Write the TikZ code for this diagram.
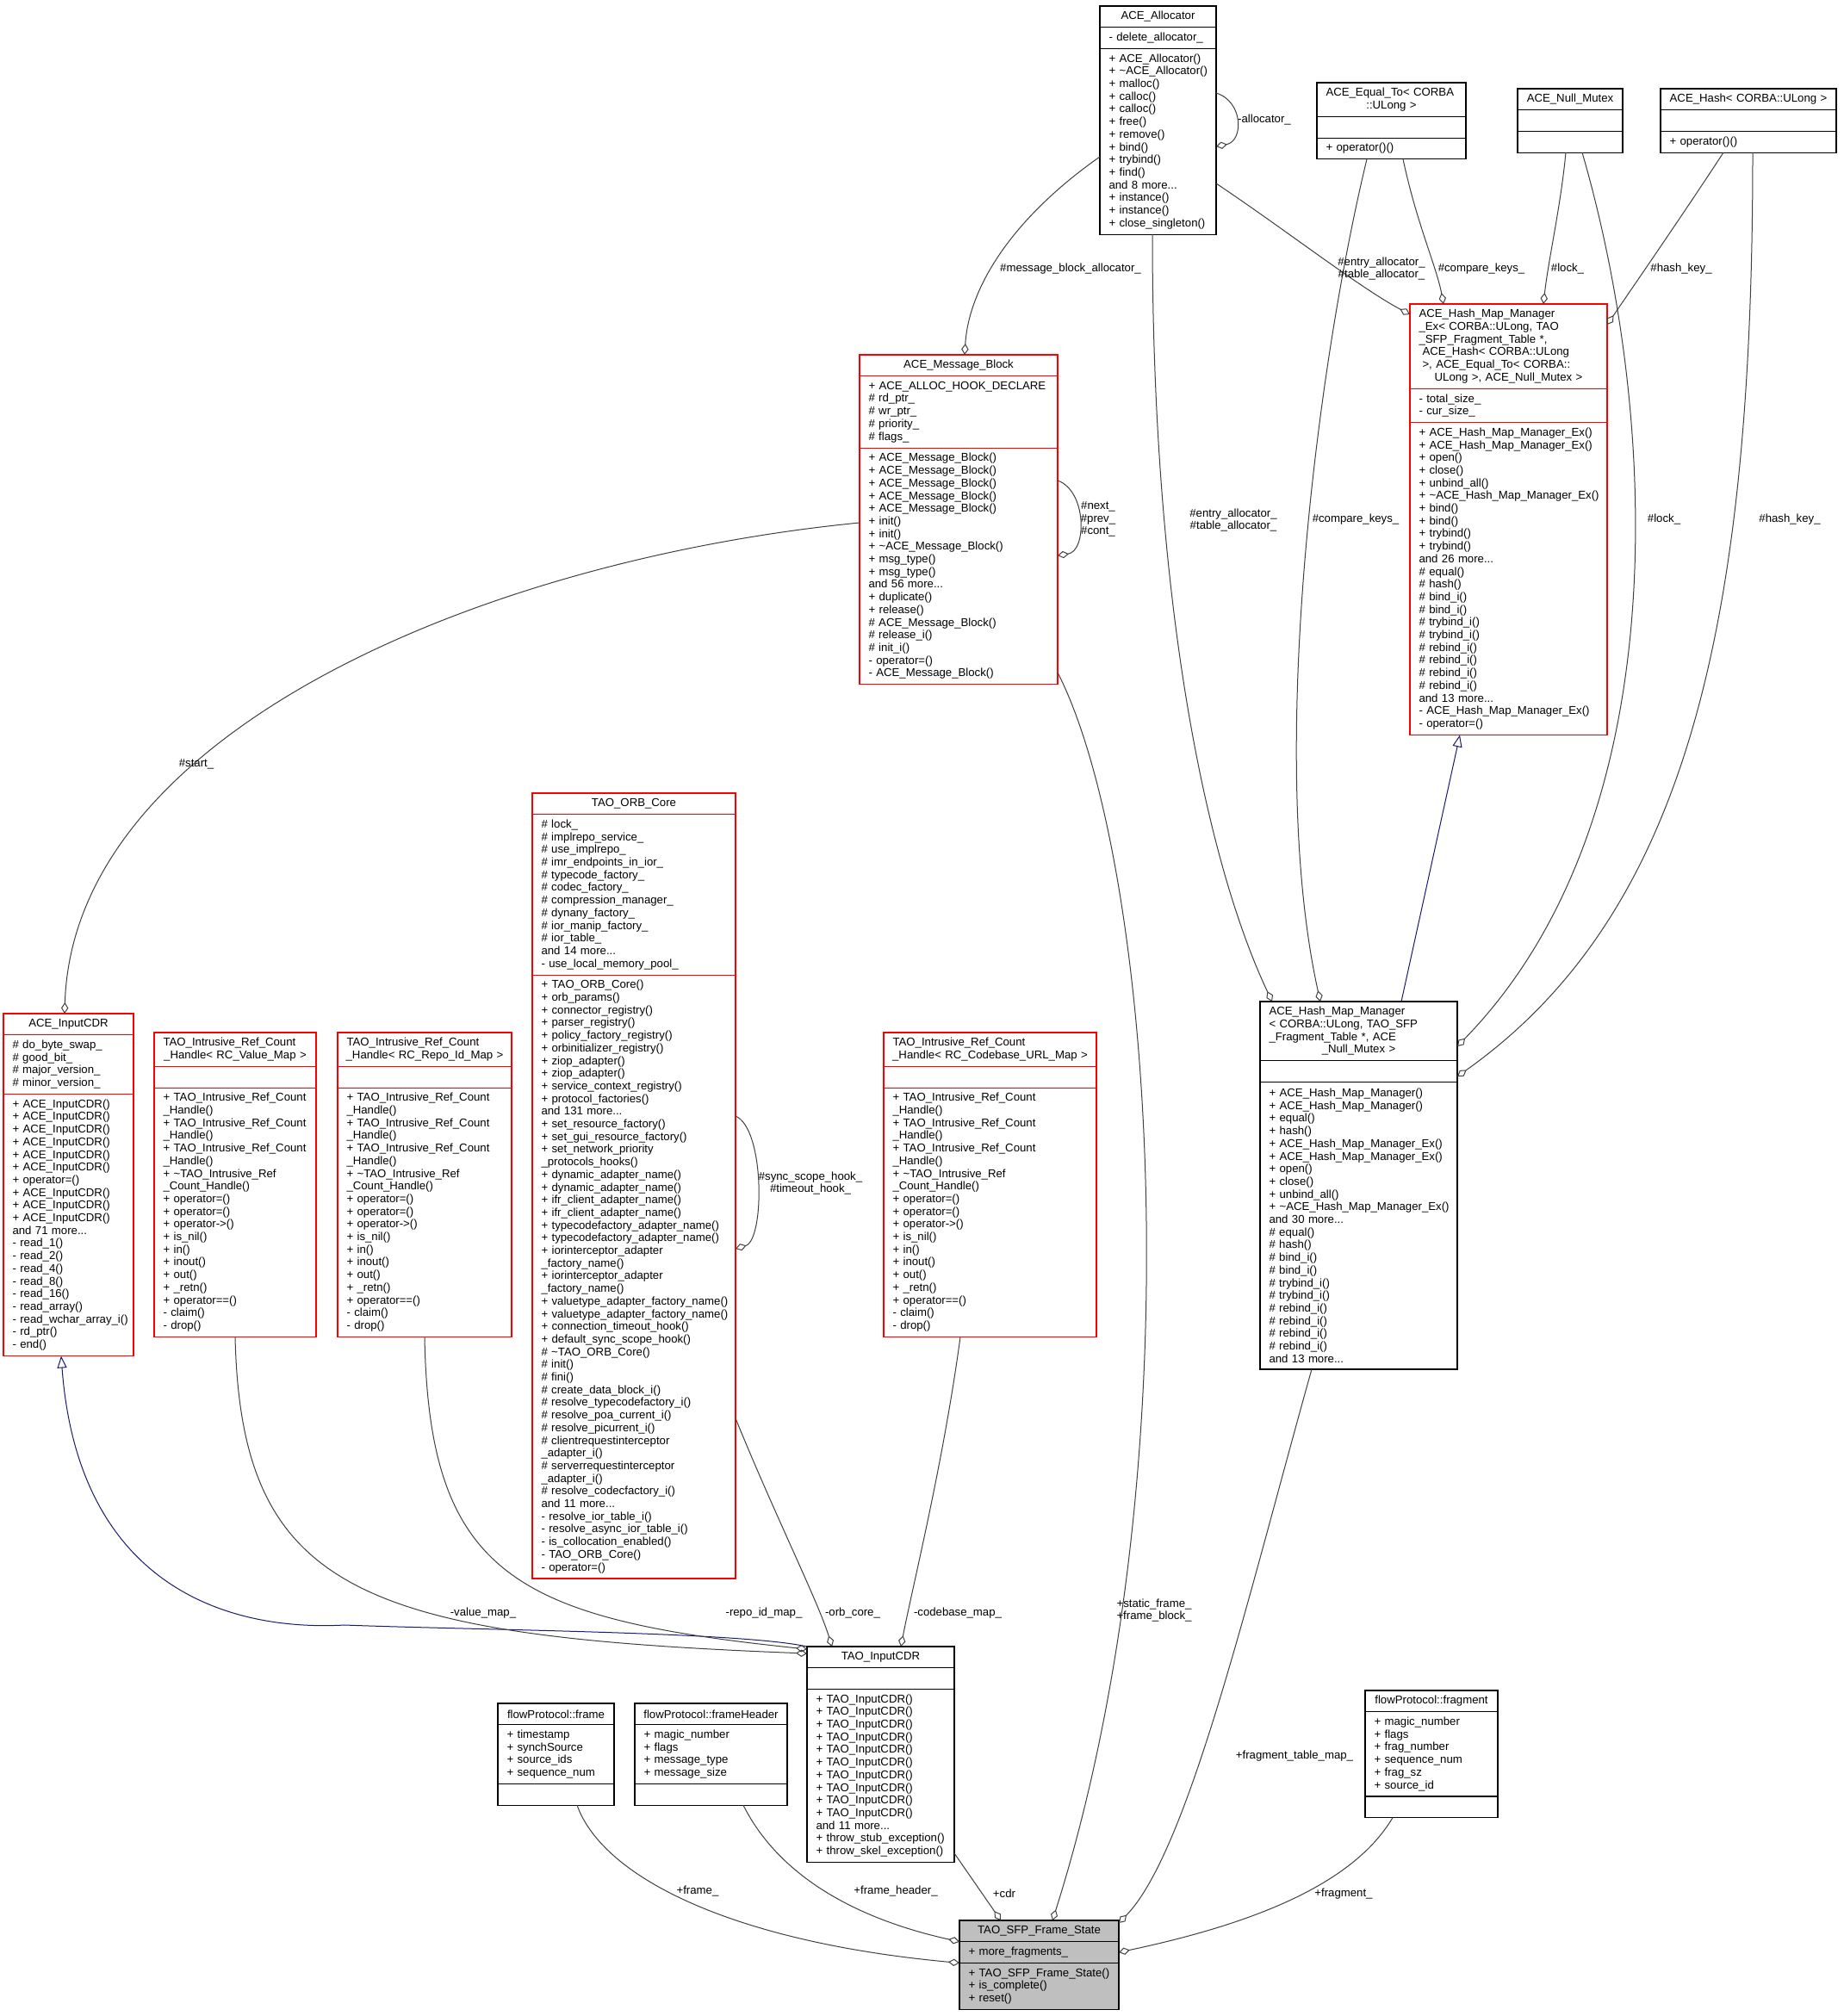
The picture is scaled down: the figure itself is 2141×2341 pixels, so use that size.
\documentclass[tikz,border=0pt]{standalone}
\usepackage{fontspec}
\setmainfont{Liberation Sans}
\usepackage{tikz}
\usetikzlibrary{positioning}
\usetikzlibrary{arrows.meta}
\usepackage{xcolor}
\definecolor{edgegray}{HTML}{404040}
\definecolor{inhblue}{HTML}{191970}
\definecolor{boxred}{HTML}{FF0000}
\definecolor{focusgray}{HTML}{BFBFBF}

\begin{document}
\begin{tikzpicture}[x=0.5pt, y=-0.5pt,
    every node/.style = {font=\fontsize{6.6}{7.35}\selectfont},
    rows/.style = {minimum height=7.35pt*#1+5pt},
    ttl/.style = {draw, rectangle, line width=0.6pt, outer sep=0pt, anchor=north west, inner xsep=5.25pt, inner ysep=0pt, align=center, rows=1,
        execute at begin node={\leftskip=-5.25pt plus 1fil\rightskip=-5.25pt plus 1fil\relax}},
    ttlm/.style = {ttl, align=left, execute at begin node={\leftskip=0pt\rightskip=-5.25pt plus 1fil\relax}},
    part/.style = {draw, rectangle, line width=0.6pt, outer sep=0pt, inner xsep=5.25pt, inner ysep=0pt, align=left,
        execute at begin node={\rightskip=-5.25pt plus 1fil\relax}},
    trunc/.style = {draw=boxred},
    lbl/.style = {inner sep=0pt, align=center},
    usage/.style = {draw=edgegray, line width=0.5pt, -{Diamond[open, length=6.5pt, width=4.2pt]}},
    inherit/.style = {draw=inhblue, line width=0.5pt, -{Triangle[open, length=7pt, width=5.5pt]}}
    ]
    \path[use as bounding box, fill=white] (0,0) rectangle (2141,2341);

    \node[ttl, text width=57pt] (alloc) at (1277,7) {ACE\_Allocator};
    \node[part, text width=57pt, rows=1, below=0pt of alloc] (allocA) {- delete\_allocator\_};
    \node[part, text width=57pt, rows=14, below=0pt of allocA] (allocM) {+ ACE\_Allocator()\\+ \textasciitilde ACE\_Allocator()\\+ malloc()\\+ calloc()\\+ calloc()\\+ free()\\+ remove()\\+ bind()\\+ trybind()\\+ find()\\and 8 more...\\+ instance()\\+ instance()\\+ close\_singleton()};

    \node[ttlm, text width=76pt, rows=2] (eq) at (1529,96) {ACE\_Equal\_To< CORBA\\\makebox[\linewidth]{::ULong >}};
    \node[part, text width=76pt, rows=1, below=0pt of eq] (eqA) {};
    \node[part, text width=76pt, rows=1, below=0pt of eqA] (eqM) {+ operator()()};

    \node[ttl, text width=50.5pt] (mutex) at (1762,103) {ACE\_Null\_Mutex};
    \node[part, text width=50.5pt, rows=1, below=0pt of mutex] (mutexA) {};
    \node[part, text width=50.5pt, rows=1, below=0pt of mutexA] (mutexM) {};

    \node[ttl, text width=91.5pt] (hash) at (1928,103) {ACE\_Hash< CORBA::ULong >};
    \node[part, text width=91.5pt, rows=1, below=0pt of hash] (hashA) {};
    \node[part, text width=91.5pt, rows=1, below=0pt of hashA] (hashM) {+ operator()()};

    \node[ttlm, trunc, text width=104pt, rows=6] (hmmx) at (1637,353) {ACE\_Hash\_Map\_Manager\\\_Ex< CORBA::ULong, TAO\\\_SFP\_Fragment\_Table *,\\\hspace*{2pt}ACE\_Hash< CORBA::ULong\\\hspace*{2pt}>, ACE\_Equal\_To< CORBA::\\\makebox[\linewidth]{ULong >, ACE\_Null\_Mutex >}};
    \node[part, trunc, text width=104pt, rows=2, below=0pt of hmmx] (hmmxA) {- total\_size\_\\- cur\_size\_};
    \node[part, trunc, text width=104pt, rows=24, below=0pt of hmmxA] (hmmxM) {+ ACE\_Hash\_Map\_Manager\_Ex()\\+ ACE\_Hash\_Map\_Manager\_Ex()\\+ open()\\+ close()\\+ unbind\_all()\\+ \textasciitilde ACE\_Hash\_Map\_Manager\_Ex()\\+ bind()\\+ bind()\\+ trybind()\\+ trybind()\\and 26 more...\\\# equal()\\\# hash()\\\# bind\_i()\\\# bind\_i()\\\# trybind\_i()\\\# trybind\_i()\\\# rebind\_i()\\\# rebind\_i()\\\# rebind\_i()\\\# rebind\_i()\\and 13 more...\\- ACE\_Hash\_Map\_Manager\_Ex()\\- operator=()};

    \node[ttl, trunc, text width=104.5pt] (mb) at (998,412) {ACE\_Message\_Block};
    \node[part, trunc, text width=104.5pt, rows=5, below=0pt of mb] (mbA) {+ ACE\_ALLOC\_HOOK\_DECLARE\\\# rd\_ptr\_\\\# wr\_ptr\_\\\# priority\_\\\# flags\_};
    \node[part, trunc, text width=104.5pt, rows=18, below=0pt of mbA] (mbM) {+ ACE\_Message\_Block()\\+ ACE\_Message\_Block()\\+ ACE\_Message\_Block()\\+ ACE\_Message\_Block()\\+ ACE\_Message\_Block()\\+ init()\\+ init()\\+ \textasciitilde ACE\_Message\_Block()\\+ msg\_type()\\+ msg\_type()\\and 56 more...\\+ duplicate()\\+ release()\\\# ACE\_Message\_Block()\\\# release\_i()\\\# init\_i()\\- operator=()\\- ACE\_Message\_Block()};

    \node[ttl, trunc, text width=107.5pt] (orb) at (618,921) {TAO\_ORB\_Core};
    \node[part, trunc, text width=107.5pt, rows=12, below=0pt of orb] (orbA) {\# lock\_\\\# implrepo\_service\_\\\# use\_implrepo\_\\\# imr\_endpoints\_in\_ior\_\\\# typecode\_factory\_\\\# codec\_factory\_\\\# compression\_manager\_\\\# dynany\_factory\_\\\# ior\_manip\_factory\_\\\# ior\_table\_\\and 14 more...\\- use\_local\_memory\_pool\_};
    \node[part, trunc, text width=107.5pt, rows=47, below=0pt of orbA] (orbM) {+ TAO\_ORB\_Core()\\+ orb\_params()\\+ connector\_registry()\\+ parser\_registry()\\+ policy\_factory\_registry()\\+ orbinitializer\_registry()\\+ ziop\_adapter()\\+ ziop\_adapter()\\+ service\_context\_registry()\\+ protocol\_factories()\\and 131 more...\\+ set\_resource\_factory()\\+ set\_gui\_resource\_factory()\\+ set\_network\_priority\\\_protocols\_hooks()\\+ dynamic\_adapter\_name()\\+ dynamic\_adapter\_name()\\+ ifr\_client\_adapter\_name()\\+ ifr\_client\_adapter\_name()\\+ typecodefactory\_adapter\_name()\\+ typecodefactory\_adapter\_name()\\+ iorinterceptor\_adapter\\\_factory\_name()\\+ iorinterceptor\_adapter\\\_factory\_name()\\+ valuetype\_adapter\_factory\_name()\\+ valuetype\_adapter\_factory\_name()\\+ connection\_timeout\_hook()\\+ default\_sync\_scope\_hook()\\\# \textasciitilde TAO\_ORB\_Core()\\\# init()\\\# fini()\\\# create\_data\_block\_i()\\\# resolve\_typecodefactory\_i()\\\# resolve\_poa\_current\_i()\\\# resolve\_picurrent\_i()\\\# clientrequestinterceptor\\\_adapter\_i()\\\# serverrequestinterceptor\\\_adapter\_i()\\\# resolve\_codecfactory\_i()\\and 11 more...\\- resolve\_ior\_table\_i()\\- resolve\_async\_ior\_table\_i()\\- is\_collocation\_enabled()\\- TAO\_ORB\_Core()\\- operator=()};

    \node[ttl, trunc, text width=65pt] (icdr) at (4,1177) {ACE\_InputCDR};
    \node[part, trunc, text width=65pt, rows=4, below=0pt of icdr] (icdrA) {\# do\_byte\_swap\_\\\# good\_bit\_\\\# major\_version\_\\\# minor\_version\_};
    \node[part, trunc, text width=65pt, rows=20, below=0pt of icdrA] (icdrM) {+ ACE\_InputCDR()\\+ ACE\_InputCDR()\\+ ACE\_InputCDR()\\+ ACE\_InputCDR()\\+ ACE\_InputCDR()\\+ ACE\_InputCDR()\\+ operator=()\\+ ACE\_InputCDR()\\+ ACE\_InputCDR()\\+ ACE\_InputCDR()\\and 71 more...\\- read\_1()\\- read\_2()\\- read\_4()\\- read\_8()\\- read\_16()\\- read\_array()\\- read\_wchar\_array\_i()\\- rd\_ptr()\\- end()};

    \node[ttlm, trunc, text width=83.5pt, rows=2] (val) at (179,1199) {TAO\_Intrusive\_Ref\_Count\\\makebox[\linewidth]{\_Handle< RC\_Value\_Map >}};
    \node[part, trunc, text width=83.5pt, rows=1, below=0pt of val] (valA) {};
    \node[part, trunc, text width=83.5pt, rows=19, below=0pt of valA] (valM) {+ TAO\_Intrusive\_Ref\_Count\\\_Handle()\\+ TAO\_Intrusive\_Ref\_Count\\\_Handle()\\+ TAO\_Intrusive\_Ref\_Count\\\_Handle()\\+ \textasciitilde TAO\_Intrusive\_Ref\\\_Count\_Handle()\\+ operator=()\\+ operator=()\\+ operator->()\\+ is\_nil()\\+ in()\\+ inout()\\+ out()\\+ \_retn()\\+ operator==()\\- claim()\\- drop()};

    \node[ttlm, trunc, text width=90.5pt, rows=2] (repo) at (392,1199) {TAO\_Intrusive\_Ref\_Count\\\makebox[\linewidth]{\_Handle< RC\_Repo\_Id\_Map >}};
    \node[part, trunc, text width=90.5pt, rows=1, below=0pt of repo] (repoA) {};
    \node[part, trunc, text width=90.5pt, rows=19, below=0pt of repoA] (repoM) {+ TAO\_Intrusive\_Ref\_Count\\\_Handle()\\+ TAO\_Intrusive\_Ref\_Count\\\_Handle()\\+ TAO\_Intrusive\_Ref\_Count\\\_Handle()\\+ \textasciitilde TAO\_Intrusive\_Ref\\\_Count\_Handle()\\+ operator=()\\+ operator=()\\+ operator->()\\+ is\_nil()\\+ in()\\+ inout()\\+ out()\\+ \_retn()\\+ operator==()\\- claim()\\- drop()};

    \node[ttlm, trunc, text width=113pt, rows=2] (cb) at (1026,1199) {TAO\_Intrusive\_Ref\_Count\\\makebox[\linewidth]{\_Handle< RC\_Codebase\_URL\_Map >}};
    \node[part, trunc, text width=113pt, rows=1, below=0pt of cb] (cbA) {};
    \node[part, trunc, text width=113pt, rows=19, below=0pt of cbA] (cbM) {+ TAO\_Intrusive\_Ref\_Count\\\_Handle()\\+ TAO\_Intrusive\_Ref\_Count\\\_Handle()\\+ TAO\_Intrusive\_Ref\_Count\\\_Handle()\\+ \textasciitilde TAO\_Intrusive\_Ref\\\_Count\_Handle()\\+ operator=()\\+ operator=()\\+ operator->()\\+ is\_nil()\\+ in()\\+ inout()\\+ out()\\+ \_retn()\\+ operator==()\\- claim()\\- drop()};

    \node[ttlm, text width=104pt, rows=4] (hmm) at (1463,1163) {ACE\_Hash\_Map\_Manager\\< CORBA::ULong, TAO\_SFP\\\_Fragment\_Table *, ACE\\\makebox[\linewidth]{\_Null\_Mutex >}};
    \node[part, text width=104pt, rows=1, below=0pt of hmm] (hmmA) {};
    \node[part, text width=104pt, rows=22, below=0pt of hmmA] (hmmM) {+ ACE\_Hash\_Map\_Manager()\\+ ACE\_Hash\_Map\_Manager()\\+ equal()\\+ hash()\\+ ACE\_Hash\_Map\_Manager\_Ex()\\+ ACE\_Hash\_Map\_Manager\_Ex()\\+ open()\\+ close()\\+ unbind\_all()\\+ \textasciitilde ACE\_Hash\_Map\_Manager\_Ex()\\and 30 more...\\\# equal()\\\# hash()\\\# bind\_i()\\\# bind\_i()\\\# trybind\_i()\\\# trybind\_i()\\\# rebind\_i()\\\# rebind\_i()\\\# rebind\_i()\\\# rebind\_i()\\and 13 more...};

    \node[ttl, text width=75pt] (tcdr) at (937,1912) {TAO\_InputCDR};
    \node[part, text width=75pt, rows=1, below=0pt of tcdr] (tcdrA) {};
    \node[part, text width=75pt, rows=13, below=0pt of tcdrA] (tcdrM) {+ TAO\_InputCDR()\\+ TAO\_InputCDR()\\+ TAO\_InputCDR()\\+ TAO\_InputCDR()\\+ TAO\_InputCDR()\\+ TAO\_InputCDR()\\+ TAO\_InputCDR()\\+ TAO\_InputCDR()\\+ TAO\_InputCDR()\\+ TAO\_InputCDR()\\and 11 more...\\+ throw\_stub\_exception()\\+ throw\_skel\_exception()};

    \node[ttl, text width=57pt] (frame) at (578,1978) {flowProtocol::frame};
    \node[part, text width=57pt, rows=4, below=0pt of frame] (frameA) {+ timestamp\\+ synchSource\\+ source\_ids\\+ sequence\_num};
    \node[part, text width=57pt, rows=1, below=0pt of frameA] (frameM) {};

    \node[ttl, text width=78pt] (fh) at (737,1978) {flowProtocol::frameHeader};
    \node[part, text width=78pt, rows=4, below=0pt of fh] (fhA) {+ magic\_number\\+ flags\\+ message\_type\\+ message\_size};
    \node[part, text width=78pt, rows=1, below=0pt of fhA] (fhM) {};

    \node[ttl, text width=66.5pt] (frag) at (1585,1963) {flowProtocol::fragment};
    \node[part, text width=66.5pt, rows=6, below=0pt of frag] (fragA) {+ magic\_number\\+ flags\\+ frag\_number\\+ sequence\_num\\+ frag\_sz\\+ source\_id};
    \node[part, text width=66.5pt, rows=1, below=0pt of fragA] (fragM) {};

    \node[ttl, fill=focusgray, text width=82pt] (st) at (1114,2230) {TAO\_SFP\_Frame\_State};
    \node[part, fill=focusgray, text width=82pt, rows=1, below=0pt of st] (stA) {+ more\_fragments\_};
    \node[part, fill=focusgray, text width=82pt, rows=3, below=0pt of stA] (stM) {+ TAO\_SFP\_Frame\_State()\\+ is\_complete()\\+ reset()};

    \draw[usage] ([yshift=-25.8pt]allocM.north east) .. controls +(32,10) and +(32,-6) .. ([yshift=-56.8pt]allocM.north east);
    \draw[usage] ([yshift=-18.9pt]mbM.north east) .. controls +(34,12) and +(34,-5) .. ([yshift=-62.4pt]mbM.north east);
    \draw[usage] ([yshift=-81.95pt]orbM.north east) .. controls +(34,14) and +(34,-10) .. ([yshift=-158.95pt]orbM.north east);

    \draw[usage] ([yshift=-62.8pt]allocM.north west) .. controls (1180,250) and (1125,330) .. ([xshift=3.5pt]mb.north);
    \draw[usage] ([yshift=-78.3pt]allocM.north east) .. controls (1490,265) and (1580,335) .. ([yshift=-6pt]hmmx.north west);
    \draw[usage] ([xshift=6.75pt]eqM.south) .. controls (1645,260) and (1668,310) .. ([xshift=-37.75pt]hmmx.north);
    \draw[usage] ([xshift=-2.5pt]mutexM.south) .. controls (1812,240) and (1798,300) .. ([xshift=20.25pt]hmmx.north);
    \draw[usage] ([xshift=-14.5pt]hashM.south) .. controls (1960,240) and (1905,320) .. ([yshift=-12pt]hmmx.north east);

    \draw[usage] ([xshift=-3.25pt]allocM.south) .. controls (1338,700) and (1400,1000) .. ([xshift=7pt]hmm.north west);
    \draw[usage] ([xshift=-14.25pt]eqM.south) .. controls (1530,420) and (1470,880) .. ([xshift=35pt]hmm.north west);
    \draw[usage] ([xshift=7pt]mutexM.south) .. controls (1925,480) and (1950,950) .. ([yshift=-26pt]hmm.north east);
    \draw[usage] ([xshift=2.5pt]hashM.south) .. controls (2035,720) and (1960,1060) .. ([yshift=-43.5pt]hmm.north east);
    \draw[inherit] ([xshift=24.75pt]hmm.north) -- ([xshift=-28.25pt]hmmxM.south);

    \draw[usage] ([yshift=-43.4pt]mbM.north west) .. controls (560,650) and (85,850) .. ([xshift=-2.25pt]icdr.north);
    \draw[inherit] (tcdr.north west) .. controls (860,1895) and (560,1893) .. (400,1887) .. controls (250,1895) and (90,1830) .. ([xshift=-4.25pt]icdrM.south);
    \draw[usage] (valM.south) .. controls (280,1850) and (420,1900) .. ([yshift=-4pt]tcdr.north west);
    \draw[usage] (repoM.south) .. controls (498,1830) and (600,1880) .. ([yshift=-1.5pt]tcdr.north west);
    \draw[usage] ([yshift=-257.45pt]orbM.north east) .. controls (900,1760) and (950,1860) .. ([xshift=-28.25pt]tcdr.north);
    \draw[usage] ([xshift=-17.25pt]cbM.south) .. controls (1095,1700) and (1060,1840) .. ([xshift=11.75pt]tcdr.north);

    \draw[usage] ([yshift=5.25pt]tcdrM.south east) -- ([xshift=24pt]st.north west);
    \draw[usage] ([yshift=6.9pt]mbM.south east) .. controls (1340,1000) and (1390,1700) .. ([xshift=54pt]st.north west);
    \draw[usage] ([xshift=-27.25pt]hmmM.south) .. controls (1450,1850) and (1380,2150) .. ([yshift=-1.5pt]st.north east);
    \draw[usage] ([xshift=12.25pt]frameM.south) .. controls (700,2180) and (850,2255) .. (stA.south west);
    \draw[usage] ([xshift=18.75pt]fhM.south) .. controls (900,2170) and (980,2225) .. (stA.north west);
    \draw[usage] ([xshift=-22.5pt]fragM.south) .. controls (1570,2190) and (1450,2235) .. (stA.east);

    \node[lbl] (lAlloc) at (1468,139) {-allocator\_};
    \node[lbl] (lMb) at (1275,603) {\#next\_\\\#prev\_\\\#cont\_};
    \node[lbl] (lMba) at (1243,312) {\#message\_block\_allocator\_};
    \node[lbl] (lEntryUp) at (1604,312) {\#entry\_allocator\_\\\#table\_allocator\_};
    \node[lbl] (lKeysUp) at (1720,312) {\#compare\_keys\_};
    \node[lbl] (lLockUp) at (1820,312) {\#lock\_};
    \node[lbl] (lHashUp) at (1952,312) {\#hash\_key\_};
    \node[lbl] (lEntryLo) at (1432,604) {\#entry\_allocator\_\\\#table\_allocator\_};
    \node[lbl] (lKeysLo) at (1574,603) {\#compare\_keys\_};
    \node[lbl] (lLockLo) at (1932,603) {\#lock\_};
    \node[lbl] (lHashLo) at (2078,603) {\#hash\_key\_};
    \node[lbl] (lStart) at (228,887) {\#start\_};
    \node[lbl] (lOrb) at (941,1374) {\#sync\_scope\_hook\_\\\#timeout\_hook\_};
    \node[lbl] (lVal) at (561,1873) {-value\_map\_};
    \node[lbl] (lRepo) at (887,1873) {-repo\_id\_map\_};
    \node[lbl] (lCore) at (990,1873) {-orb\_core\_};
    \node[lbl] (lCb) at (1112,1873) {-codebase\_map\_};
    \node[lbl] (lBlock) at (1340,1870) {+static\_frame\_\\+frame\_block\_};
    \node[lbl] (lTable) at (1503,2039) {+fragment\_table\_map\_};
    \node[lbl] (lCdr) at (1166,2199) {+cdr};
    \node[lbl] (lFrame) at (810,2196) {+frame\_};
    \node[lbl] (lHeader) at (1040,2196) {+frame\_header\_};
    \node[lbl] (lFrag) at (1560,2199) {+fragment\_};
\end{tikzpicture}
\end{document}
